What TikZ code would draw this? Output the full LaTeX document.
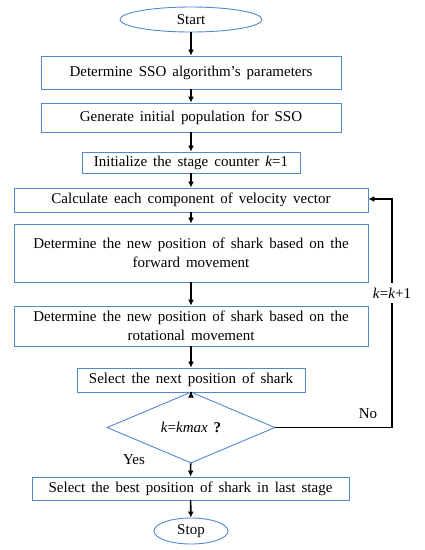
\documentclass[tikz,border=0pt]{standalone}
\usepackage{fontspec}
\setmainfont{Liberation Serif}[WordSpace=1.6]
\usetikzlibrary{shapes.geometric,arrows.meta}
\definecolor{bb}{RGB}{84,136,206}
\begin{document}
\begin{tikzpicture}[x=1pt,y=-1pt,
  box/.style={draw=bb,line width=0.9pt,rectangle,inner sep=0pt,align=center,font=\fontsize{15}{19}\selectfont},
  term/.style={draw=bb,line width=0.9pt,ellipse,inner sep=0pt,font=\fontsize{15}{18}\selectfont},
  dec/.style={draw=bb,line width=0.9pt,diamond,inner sep=0pt,font=\fontsize{15}{18}\selectfont},
  arr/.style={line width=1.6pt,-{Latex[length=6pt,width=6pt]}},
  lab/.style={font=\fontsize{15}{18}\selectfont,inner sep=1pt}]
\useasboundingbox (0,0) rectangle (425,550);
\node[term,minimum width=142pt,minimum height=25pt] (start) at (191,19.5) {Start};
\node[box,minimum width=300pt,minimum height=33pt] (b1) at (191,72.5) {Determine SSO algorithm’s parameters};
\node[box,minimum width=300pt,minimum height=29pt] (b2) at (191,117.5) {Generate initial population for SSO};
\node[box,minimum width=218pt,minimum height=21pt] (b3) at (191,162.5) {Initialize the stage counter \textit{k}=1};
\node[box,minimum width=354pt,minimum height=24pt] (b4) at (191,200) {Calculate each component of velocity vector};
\node[box,minimum width=354pt,minimum height=58pt] (b5) at (191,253) {Determine the new position of shark based on the\\forward movement};
\node[box,minimum width=354pt,minimum height=40pt] (b6) at (191,326) {Determine the new position of shark based on the\\rotational movement};
\node[box,minimum width=228pt,minimum height=24pt] (b7) at (191,380) {Select the next position of shark};
\node[dec,minimum width=168pt,minimum height=45pt] (d) at (191,427.5) {\textit{k}=\textit{kmax} \textbf{?}};
\node[box,minimum width=317pt,minimum height=23pt] (b8) at (190.5,488.5) {Select the best position of shark in last stage};
\node[term,minimum width=74pt,minimum height=26pt] (stop) at (191,531) {Stop};
\draw[arr] (start) -- (b1);
\draw[arr] (b1) -- (b2);
\draw[arr] (b2) -- (b3);
\draw[arr] (b3) -- (b4);
\draw[arr] (b4) -- (b5);
\draw[arr] (b5) -- (b6);
\draw[arr] (b6) -- (b7);
\draw[arr] (b7) -- (d);
\draw[arr] (d) -- (b8);
\draw[arr] (b8) -- (stop);
\coordinate (fb) at (392,199);
\draw[arr] (d.east) -| (fb) -- (b4.east |- fb);
\node[lab,fill=white,inner ysep=5pt] (kk) at (392,293) {\textit{k}=\textit{k}+1};
\node[lab] (no) at (368,414) {No};
\node[lab] (yes) at (134,460) {Yes};
\end{tikzpicture}
\end{document}
